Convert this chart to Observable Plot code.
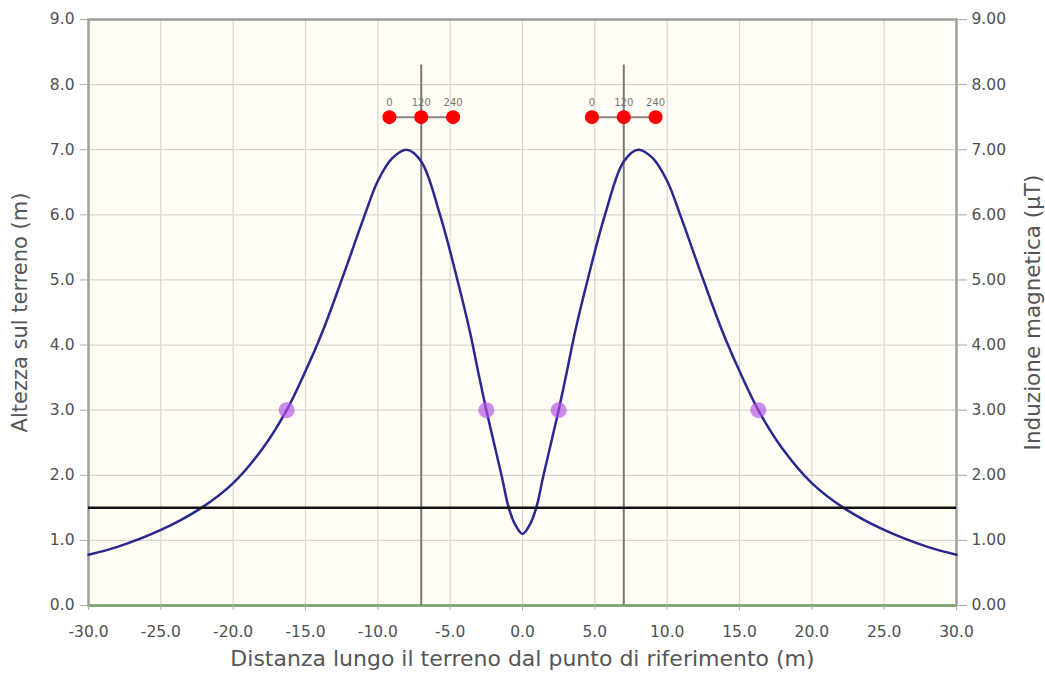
<!DOCTYPE html>
<html>
<head>
<meta charset="utf-8">
<script src="https://cdn.jsdelivr.net/npm/d3@7"></script>
<script src="https://cdn.jsdelivr.net/npm/@observablehq/plot@0.6"></script>
<style>
  html, body { margin: 0; padding: 0; background: #ffffff; }
  #chart { width: 1045px; height: 679px; }
</style>
</head>
<body>
<div id="chart"></div>
<script>
// ---- Data ----
const xTicks = [-30, -25, -20, -15, -10, -5, 0, 5, 10, 15, 20, 25, 30];
const yTicks = [0, 1, 2, 3, 4, 5, 6, 7, 8, 9];

// Induzione magnetica (µT) lungo il terreno
const distanza = [-30, -28, -25, -22.2, -20, -18, -16.3, -15, -13.8, -12.5, -10.9, -10, -9, -8, -7, -5.7, -4.5, -3.65, -3, -2.5, -1.45, -0.95, -0.5, 0,
                  0.5, 0.95, 1.45, 2.5, 3, 3.65, 4.5, 5.7, 7, 8, 9, 10, 10.9, 12.5, 13.8, 15, 16.3, 18, 20, 22.2, 25, 28, 30];
const induzione = [0.78, 0.9, 1.16, 1.5, 1.88, 2.4, 3.0, 3.6, 4.22, 5.0, 6.0, 6.52, 6.87, 7.0, 6.82, 6.0, 5.0, 4.22, 3.52, 3.0, 2.0, 1.5, 1.24, 1.1,
                   1.24, 1.5, 2.0, 3.0, 3.52, 4.22, 5.0, 6.0, 6.82, 7.0, 6.87, 6.52, 6.0, 5.0, 4.22, 3.6, 3.0, 2.4, 1.88, 1.5, 1.16, 0.9, 0.78];

// Conduttori (fasi) e sostegni
const fasiX = [-9.2, -7, -4.8, 4.8, 7, 9.2];
const fasiCircuito = ["A", "A", "A", "B", "B", "B"];
const fasiEtichetta = ["0", "120", "240", "0", "120", "240"];
const fasiAltezza = 7.5;
const sostegniX = [-7, 7];
const sostegniAltezza = 8.3;

// Punti a 3 µT
const puntiX = [-16.3, -2.5, 2.5, 16.3];
const puntiValore = 3.0;

// Soglia orizzontale
const sogliaAltezza = 1.5;

const titoloX = "Distanza lungo il terreno dal punto di riferimento (m)";
const titoloY = "Altezza sul terreno (m)";
const titoloY2 = "Induzione magnetica (µT)";

// ---- Build tables ----
const curva = distanza.map((d, i) => ({x: d, y: induzione[i]}));
const fasi = fasiX.map((d, i) => ({x: d, y: fasiAltezza, c: fasiCircuito[i], t: fasiEtichetta[i]}));
const sostegni = sostegniX.map(d => ({x: d, y1: 0, y2: sostegniAltezza}));
const punti = puntiX.map(d => ({x: d, y: puntiValore}));

const font = "DejaVu Sans, Verdana, sans-serif";

const chart = Plot.plot({
  width: 1045,
  height: 679,
  marginTop: 19,
  marginBottom: 74,
  marginLeft: 88,
  marginRight: 89,
  style: {fontFamily: font, fontSize: "15.5px", color: "#555", background: "#ffffff"},
  x: {domain: [-30, 30]},
  y: {domain: [0, 9]},
  marks: [
    Plot.frame({fill: "#fffdf4", stroke: null}),
    Plot.gridX(xTicks, {stroke: "#d9d5cc", strokeOpacity: 1, strokeWidth: 1.2}),
    Plot.gridY(yTicks, {stroke: "#d9d5cc", strokeOpacity: 1, strokeWidth: 1.2}),
    Plot.frame({stroke: "#a0a0a0", strokeWidth: 2.5}),
    Plot.ruleY([0], {stroke: "#78a86e", strokeWidth: 2.5}),
    Plot.axisX(xTicks, {tickFormat: d => d.toFixed(1), tickSize: 5, tickPadding: 15, stroke: "#aaa", fill: "#505050", label: null}),
    Plot.axisY(yTicks, {anchor: "left", tickFormat: d => d.toFixed(1), tickSize: 8, tickPadding: 6, stroke: "#aaa", fill: "#505050", label: null}),
    Plot.axisY(yTicks, {anchor: "right", tickFormat: d => d.toFixed(2), tickSize: 10, tickPadding: 5, stroke: "#aaa", fill: "#505050", label: null}),
    Plot.ruleX(sostegni, {x: "x", y1: "y1", y2: "y2", stroke: "#777", strokeWidth: 2}),
    Plot.line(fasi, {x: "x", y: "y", z: "c", stroke: "#888", strokeWidth: 2}),
    Plot.line(curva, {x: "x", y: "y", curve: "catmull-rom", stroke: "#2a2890", strokeWidth: 2.5}),
    Plot.ruleY([sogliaAltezza], {stroke: "#111", strokeWidth: 2.5}),
    Plot.dot(punti, {x: "x", y: "y", r: 8, fill: "#b24fe6", fillOpacity: 0.65, stroke: null}),
    Plot.dot(fasi, {x: "x", y: "y", r: 7, fill: "#ff0000", stroke: null}),
    Plot.text(fasi, {x: "x", y: "y", text: "t", dy: -14, fontSize: 10, fill: "#777"}),
    Plot.text([titoloX], {frameAnchor: "bottom", text: d => d, dy: 60, fontSize: 22, fill: "#555"}),
    Plot.text([titoloY], {frameAnchor: "left", textAnchor: "middle", text: d => d, rotate: -90, dx: -68, fontSize: 21, fill: "#555"}),
    Plot.text([titoloY2], {frameAnchor: "right", textAnchor: "middle", text: d => d, rotate: -90, dx: 77, fontSize: 21.5, fill: "#555"})
  ]
});
document.getElementById("chart").appendChild(chart);
</script>
</body>
</html>
